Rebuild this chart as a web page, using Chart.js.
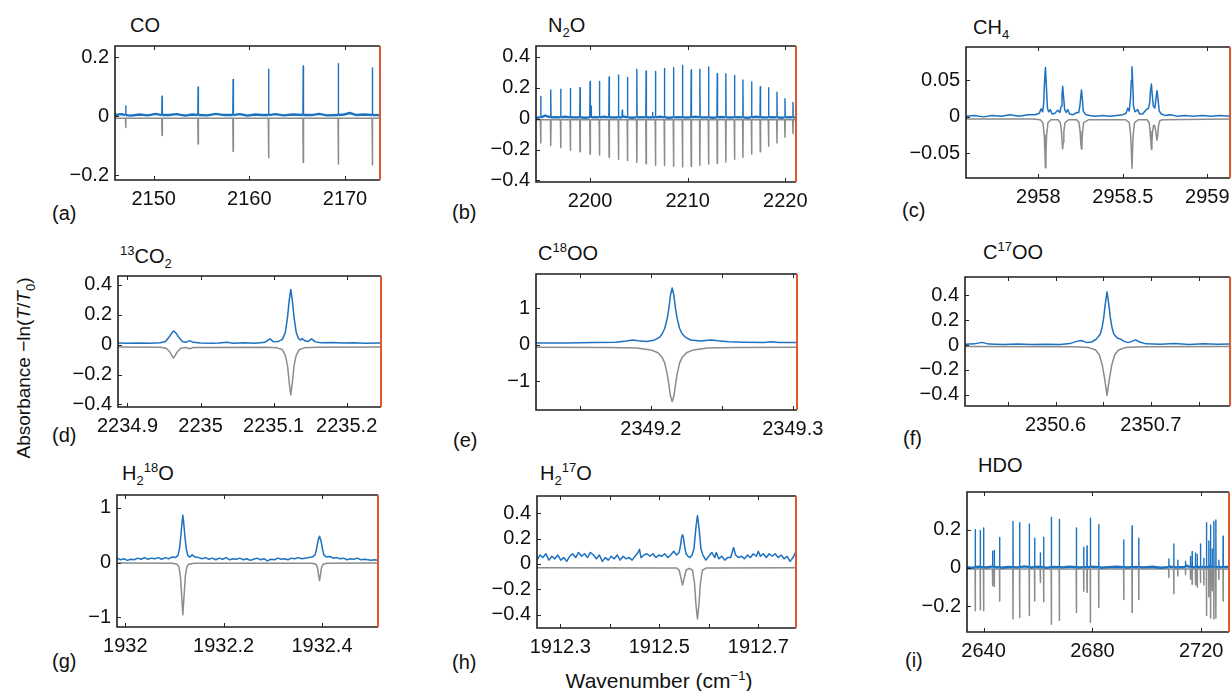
<!DOCTYPE html>
<html>
<head>
<meta charset="utf-8">
<script src="https://cdn.jsdelivr.net/npm/chart.js@4.4.1/dist/chart.umd.min.js"></script>
<style>
  body { margin:0; width:1231px; height:691px; overflow:hidden; background:#fff; position:relative;
         font-family:"Liberation Sans", Arial, sans-serif; color:#111; }
  canvas { position:absolute; }
  .t { position:absolute; font-size:20px; line-height:20px; white-space:nowrap; }
  .t sub, .t sup { font-size:13px; line-height:0; }
  .lab { position:absolute; font-size:20px; line-height:20px; white-space:nowrap; }
  .lab sub, .lab sup { font-size:13px; line-height:0; }
</style>
</head>
<body>

<div class="t" style="left:130px;top:15px">CO</div>
<div class="t" style="left:548px;top:15px">N<sub>2</sub>O</div>
<div class="t" style="left:973px;top:17px">CH<sub>4</sub></div>
<div class="t" style="left:120px;top:246px"><sup>13</sup>CO<sub>2</sub></div>
<div class="t" style="left:538px;top:243px">C<sup>18</sup>OO</div>
<div class="t" style="left:983px;top:242px">C<sup>17</sup>OO</div>
<div class="t" style="left:122px;top:463px">H<sub>2</sub><sup>18</sup>O</div>
<div class="t" style="left:540px;top:463px">H<sub>2</sub><sup>17</sup>O</div>
<div class="t" style="left:978px;top:455px">HDO</div>

<div class="lab" style="left:52px;top:203px">(a)</div>
<div class="lab" style="left:452px;top:202px">(b)</div>
<div class="lab" style="left:902px;top:200px">(c)</div>
<div class="lab" style="left:52px;top:425px">(d)</div>
<div class="lab" style="left:453px;top:430px">(e)</div>
<div class="lab" style="left:903px;top:428px">(f)</div>
<div class="lab" style="left:52px;top:651px">(g)</div>
<div class="lab" style="left:452px;top:652px">(h)</div>
<div class="lab" style="left:905px;top:650px">(i)</div>

<div class="lab" style="left:24px;top:368px;font-size:19px;transform:translate(-50%,-50%) rotate(-90deg)">Absorbance &minus;ln(<i>T</i>/<i>T</i><sub>0</sub>)</div>
<div class="lab" style="left:659px;top:681px;font-size:21px;transform:translate(-50%,-50%)">Wavenumber (cm<sup>&minus;1</sup>)</div>

<canvas id="ca"></canvas><canvas id="cb"></canvas><canvas id="cc"></canvas>
<canvas id="cd"></canvas><canvas id="ce"></canvas><canvas id="cf"></canvas>
<canvas id="cg"></canvas><canvas id="ch"></canvas><canvas id="ci"></canvas>

<script>
// ---------- (a) CO ----------
const coBaseX = [2145.95, 2146.6, 2147.6, 2148.5, 2149.4, 2150.2, 2151.6, 2152.4, 2153.3, 2154.0, 2155.6, 2156.5, 2157.4, 2159.0,
                 2159.8, 2160.6, 2161.3, 2162.7, 2163.6, 2164.5, 2166.5, 2167.3, 2168.1, 2169.9, 2170.5, 2171.2, 2172.0, 2173.66];
const coBaseY = [0.004, 0.007, 0.002, 0.006, 0.003, 0.008, 0.004, 0.007, 0.002, 0.006, 0.003, 0.008, 0.004, 0.007,
                 0.002, 0.006, 0.004, 0.007, 0.003, 0.006, 0.004, 0.008, 0.003, 0.006, 0.011, 0.004, 0.006, 0.004];
const coLineX = [2147.07, 2150.87, 2154.64, 2158.30, 2162.01, 2165.63, 2169.30, 2172.86];
const coMeas  = [0.035, 0.068, 0.099, 0.125, 0.159, 0.170, 0.178, 0.164];
const coSim   = [-0.038, -0.065, -0.094, -0.119, -0.141, -0.157, -0.162, -0.165];
const coXTicks = [2150, 2160, 2170];
const coYTicks = [-0.2, 0, 0.2];

// ---------- (b) N2O ----------
const n2oBaseX = [2194.46, 2195.4, 2196.5, 2197.4, 2198.5, 2199.5, 2200.5, 2201.4, 2202.4, 2203.4, 2204.3, 2205.3, 2206.2, 2207.2, 2208.1,
                  2209.0, 2209.9, 2210.8, 2211.7, 2212.6, 2213.5, 2214.4, 2215.2, 2216.1, 2217.0, 2217.9, 2218.7, 2219.6, 2220.4, 2221.1];
const n2oBaseY = [0.006, 0.02, 0.01, 0.012, 0.008, 0.006, 0.01, 0.012, 0.008, 0.014, 0.006, 0.01, 0.008, 0.012, 0.006,
                  0.01, 0.007, 0.012, 0.008, 0.006, 0.011, 0.007, 0.01, 0.006, 0.012, 0.008, 0.01, 0.006, 0.01, 0.006];
const n2oLineX = [2194.94, 2195.97, 2196.99, 2197.98, 2198.97, 2200.00, 2200.96, 2201.95, 2202.91, 2203.83, 2204.79, 2205.74, 2206.70,
                  2207.62, 2208.55, 2209.47, 2210.36, 2211.25, 2212.14, 2213.03, 2213.91, 2214.80, 2215.66, 2216.55, 2217.44,
                  2218.29, 2219.15, 2219.97, 2220.79];
const n2oMeas = [0.144, 0.185, 0.19, 0.196, 0.2, 0.24, 0.24, 0.27, 0.283, 0.267, 0.319, 0.308, 0.306, 0.325, 0.329, 0.344, 0.315,
                 0.32, 0.335, 0.29, 0.29, 0.28, 0.25, 0.237, 0.206, 0.2, 0.171, 0.129, 0.104];
const n2oSim  = [-0.158, -0.173, -0.188, -0.204, -0.215, -0.229, -0.235, -0.25, -0.263, -0.271, -0.283, -0.292, -0.302, -0.304,
                 -0.308, -0.313, -0.308, -0.302, -0.294, -0.288, -0.281, -0.263, -0.25, -0.229, -0.215, -0.179, -0.158, -0.121, -0.096];
const n2oWeakX = [2200.1, 2203.3, 2206.4];
const n2oWeakY = [0.08, 0.055, 0.04];
const n2oXTicks = [2200, 2210, 2220];
const n2oYTicks = [-0.4, -0.2, 0, 0.2, 0.4];

// ---------- (c) CH4 ----------
const ch4MeasX = [2957.572, 2957.622, 2957.674, 2957.727, 2957.780, 2957.832, 2957.885, 2957.938, 2957.980, 2958.006, 2958.016,
  2958.026, 2958.032, 2958.037, 2958.042, 2958.047, 2958.054, 2958.061, 2958.071, 2958.081, 2958.098, 2958.115, 2958.127,
  2958.136, 2958.140, 2958.144, 2958.149, 2958.156, 2958.164, 2958.174, 2958.185, 2958.206, 2958.228, 2958.239, 2958.246,
  2958.251, 2958.255, 2958.260, 2958.266, 2958.280, 2958.306, 2958.338, 2958.380, 2958.422, 2958.464, 2958.501, 2958.519,
  2958.529, 2958.538, 2958.545, 2958.550, 2958.554, 2958.558, 2958.563, 2958.572, 2958.588, 2958.599, 2958.617, 2958.639,
  2958.652, 2958.659, 2958.663, 2958.669, 2958.674, 2958.680, 2958.689, 2958.696, 2958.702, 2958.708, 2958.715, 2958.728,
  2958.749, 2958.780, 2958.822, 2958.865, 2958.917, 2958.970, 2959.023, 2959.075, 2959.134];
const ch4MeasY = [0.001, 0.002, 0.000, 0.002, 0.001, 0.003, 0.001, 0.003, 0.003, 0.005, 0.011,
  0.007, 0.02, 0.05, 0.068, 0.045, 0.012, 0.007, 0.010, 0.004, 0.005, 0.009, 0.006,
  0.015, 0.03, 0.042, 0.028, 0.01, 0.006, 0.010, 0.004, 0.003, 0.006, 0.006, 0.015,
  0.028, 0.037, 0.025, 0.008, 0.003, 0.002, 0.001, 0.002, 0.001, 0.002, 0.003, 0.005,
  0.012, 0.008, 0.025, 0.05, 0.069, 0.05, 0.015, 0.007, 0.010, 0.004, 0.004, 0.010,
  0.012, 0.02, 0.035, 0.045, 0.03, 0.015, 0.012, 0.025, 0.036, 0.025, 0.008, 0.004,
  0.002, 0.003, 0.001, 0.002, 0.001, 0.002, 0.001, 0.002, 0.001];
const ch4SimX = [2957.572, 2957.969, 2958.011, 2958.027, 2958.035, 2958.039, 2958.042, 2958.045, 2958.049, 2958.057, 2958.075,
  2958.117, 2958.130, 2958.137, 2958.141, 2958.144, 2958.147, 2958.151, 2958.158, 2958.180, 2958.227, 2958.241, 2958.247,
  2958.251, 2958.255, 2958.258, 2958.262, 2958.268, 2958.296, 2958.517, 2958.538, 2958.546, 2958.551, 2958.554, 2958.557,
  2958.561, 2958.569, 2958.591, 2958.643, 2958.656, 2958.661, 2958.666, 2958.669, 2958.672, 2958.676, 2958.681, 2958.688,
  2958.695, 2958.699, 2958.702, 2958.706, 2958.711, 2958.719, 2958.738, 2959.134];
const ch4SimY = [-0.003, -0.003, -0.004, -0.008, -0.025, -0.05, -0.070, -0.05, -0.025, -0.008, -0.004,
  -0.004, -0.008, -0.02, -0.035, -0.044, -0.035, -0.02, -0.008, -0.004, -0.004, -0.008, -0.02,
  -0.035, -0.044, -0.035, -0.02, -0.008, -0.004, -0.004, -0.008, -0.025, -0.05, -0.0705, -0.05,
  -0.025, -0.008, -0.004, -0.004, -0.008, -0.02, -0.035, -0.0446, -0.035, -0.02, -0.012, -0.012,
  -0.02, -0.028, -0.032, -0.026, -0.012, -0.005, -0.004, -0.003];
const ch4XTicks = [2958, 2958.5, 2959];
const ch4YTicks = [-0.05, 0, 0.05];

// ---------- (d) 13CO2 ----------
const c13MeasX = [2234.887, 2234.90, 2234.915, 2234.93, 2234.945, 2234.952, 2234.957, 2234.961, 2234.963, 2234.966, 2234.970,
  2234.975, 2234.980, 2234.985, 2234.990, 2235.000, 2235.015, 2235.025, 2235.036, 2235.045, 2235.060, 2235.075, 2235.088, 2235.095,
  2235.100, 2235.106, 2235.112, 2235.116, 2235.119, 2235.1215, 2235.1235, 2235.1255, 2235.128, 2235.131, 2235.134, 2235.137,
  2235.139, 2235.143, 2235.147, 2235.152, 2235.157, 2235.165, 2235.18, 2235.195, 2235.21, 2235.225, 2235.247];
const c13MeasY = [0.010, 0.008, 0.011, 0.009, 0.012, 0.02, 0.05, 0.08, 0.09, 0.08, 0.05,
  0.02, 0.015, 0.026, 0.015, 0.010, 0.008, 0.011, 0.016, 0.009, 0.012, 0.009, 0.015, 0.038,
  0.018, 0.02, 0.035, 0.08, 0.18, 0.30, 0.368, 0.30, 0.18, 0.08, 0.04, 0.03,
  0.04, 0.025, 0.02, 0.038, 0.018, 0.012, 0.014, 0.010, 0.012, 0.009, 0.010];
const c13SimX = [2234.887, 2234.945, 2234.953, 2234.958, 2234.963, 2234.968, 2234.973, 2234.980, 2234.985, 2234.990, 2235.09,
  2235.105, 2235.112, 2235.116, 2235.119, 2235.1215, 2235.1235, 2235.1255, 2235.128, 2235.131, 2235.135, 2235.142, 2235.16, 2235.247];
const c13SimY = [-0.017, -0.018, -0.025, -0.05, -0.09, -0.05, -0.025, -0.02, -0.028, -0.02, -0.018,
  -0.022, -0.035, -0.07, -0.14, -0.26, -0.336, -0.26, -0.14, -0.07, -0.035, -0.022, -0.018, -0.017];
const c13XTicks = [2234.9, 2235, 2235.1, 2235.2];
const c13YTicks = [-0.4, -0.2, 0, 0.2, 0.4];

// ---------- (e) C18OO ----------
const c18MeasX = [2349.119, 2349.14, 2349.16, 2349.175, 2349.183, 2349.187, 2349.191, 2349.197, 2349.202, 2349.206, 2349.208,
  2349.2098, 2349.2115, 2349.2127, 2349.2138, 2349.215, 2349.2162, 2349.2173, 2349.2185, 2349.2202, 2349.222, 2349.2245,
  2349.228, 2349.235, 2349.240, 2349.243, 2349.247, 2349.255, 2349.265, 2349.28, 2349.285, 2349.29, 2349.303];
const c18MeasY = [0.05, 0.05, 0.06, 0.07, 0.1, 0.13, 0.11, 0.09, 0.12, 0.2, 0.3,
  0.45, 0.72, 1.0, 1.35, 1.55, 1.35, 1.0, 0.72, 0.45, 0.3, 0.2,
  0.13, 0.1, 0.12, 0.13, 0.11, 0.08, 0.07, 0.06, 0.08, 0.06, 0.06];
const c18SimX = [2349.119, 2349.17, 2349.19, 2349.2, 2349.205, 2349.208, 2349.2098, 2349.2115, 2349.2127, 2349.2138, 2349.215,
  2349.2162, 2349.2173, 2349.2185, 2349.2202, 2349.222, 2349.225, 2349.23, 2349.24, 2349.26, 2349.303];
const c18SimY = [-0.07, -0.075, -0.09, -0.14, -0.22, -0.35, -0.5, -0.8, -1.1, -1.4, -1.55,
  -1.4, -1.1, -0.8, -0.5, -0.35, -0.22, -0.14, -0.09, -0.075, -0.07];
const c18XTicks = [2349.15, 2349.2, 2349.25, 2349.3];
const c18XLabels = [2349.2, 2349.3];
const c18YTicks = [-1, 0, 1];

// ---------- (f) C17OO ----------
const c17MeasX = [2350.505, 2350.515, 2350.523, 2350.53, 2350.545, 2350.56, 2350.575, 2350.59, 2350.605, 2350.615, 2350.622,
  2350.627, 2350.633, 2350.638, 2350.643, 2350.647, 2350.649, 2350.6505, 2350.652, 2350.654, 2350.656, 2350.6575, 2350.659,
  2350.661, 2350.665, 2350.668, 2350.672, 2350.676, 2350.680, 2350.684, 2350.688, 2350.695, 2350.71, 2350.725, 2350.74,
  2350.755, 2350.77, 2350.783];
const c17MeasY = [0.006, 0.01, 0.022, 0.008, 0.005, 0.008, 0.004, 0.007, 0.005, 0.012, 0.03,
  0.037, 0.02, 0.025, 0.05, 0.09, 0.15, 0.22, 0.32, 0.428, 0.32, 0.22, 0.15,
  0.09, 0.055, 0.05, 0.03, 0.02, 0.03, 0.042, 0.025, 0.01, 0.006, 0.012, 0.005,
  0.01, 0.006, 0.008];
const c17SimX = [2350.505, 2350.62, 2350.635, 2350.642, 2350.646, 2350.649, 2350.6515, 2350.654, 2350.6565, 2350.659, 2350.662,
  2350.666, 2350.673, 2350.69, 2350.783];
const c17SimY = [-0.012, -0.013, -0.02, -0.04, -0.08, -0.16, -0.27, -0.405, -0.27, -0.16, -0.08,
  -0.04, -0.02, -0.013, -0.012];
const c17XTicks = [2350.55, 2350.6, 2350.65, 2350.7, 2350.75];
const c17XLabels = [2350.6, 2350.7];
const c17YTicks = [-0.4, -0.2, 0, 0.2, 0.4];

// ---------- (g) H2 18O ----------
const h18MeasX = [1931.983, 1931.99, 1931.997, 1932.004, 1932.011, 1932.018, 1932.025, 1932.032, 1932.039, 1932.046, 1932.053,
  1932.060, 1932.067, 1932.074, 1932.081, 1932.088, 1932.095, 1932.102, 1932.107, 1932.110, 1932.1125, 1932.115, 1932.117,
  1932.119, 1932.1215, 1932.124, 1932.127, 1932.131, 1932.136, 1932.142, 1932.149, 1932.156, 1932.163, 1932.170, 1932.177,
  1932.184, 1932.191, 1932.198, 1932.205, 1932.212, 1932.219, 1932.226, 1932.233, 1932.240, 1932.247, 1932.254, 1932.261,
  1932.268, 1932.275, 1932.282, 1932.289, 1932.296, 1932.303, 1932.310, 1932.317, 1932.324, 1932.331, 1932.338, 1932.345,
  1932.352, 1932.359, 1932.366, 1932.373, 1932.380, 1932.386, 1932.389, 1932.392, 1932.395, 1932.398, 1932.401, 1932.404,
  1932.409, 1932.416, 1932.423, 1932.430, 1932.437, 1932.444, 1932.451, 1932.458, 1932.465, 1932.472, 1932.479, 1932.486,
  1932.493, 1932.500, 1932.507, 1932.514];
const h18MeasY = [0.08, 0.05, 0.07, 0.04, 0.06, 0.05, 0.08, 0.06, 0.09, 0.06, 0.08,
  0.07, 0.09, 0.06, 0.09, 0.07, 0.10, 0.09, 0.13, 0.25, 0.45, 0.7, 0.867,
  0.7, 0.45, 0.25, 0.13, 0.10, 0.14, 0.10, 0.09, 0.07, 0.09, 0.06, 0.08,
  0.05, 0.08, 0.06, 0.09, 0.05, 0.07, 0.06, 0.08, 0.05, 0.07, 0.04, 0.06,
  0.08, 0.05, 0.07, 0.03, 0.06, 0.05, 0.08, 0.06, 0.07, 0.05, 0.08, 0.07,
  0.09, 0.07, 0.08, 0.09, 0.10, 0.14, 0.25, 0.4, 0.48, 0.4, 0.25, 0.14,
  0.10, 0.11, 0.08, 0.09, 0.07, 0.08, 0.05, 0.07, 0.06, 0.08, 0.05, 0.06,
  0.05, 0.04, 0.05, 0.04];
const h18SimX = [1931.983, 1932.095, 1932.105, 1932.109, 1932.112, 1932.1145, 1932.117, 1932.1195, 1932.122, 1932.125, 1932.129,
  1932.14, 1932.38, 1932.388, 1932.391, 1932.393, 1932.395, 1932.397, 1932.399, 1932.402, 1932.41, 1932.514];
const h18SimY = [-0.01, -0.012, -0.03, -0.08, -0.25, -0.6, -0.954, -0.6, -0.25, -0.08, -0.03,
  -0.012, -0.012, -0.03, -0.1, -0.22, -0.33, -0.22, -0.1, -0.03, -0.012, -0.01];
const h18XTicks = [1932, 1932.2, 1932.4];
const h18YTicks = [-1, 0, 1];

// ---------- (h) H2 17O ----------
const h17MeasX = [1912.253, 1912.259, 1912.265, 1912.271, 1912.277, 1912.283, 1912.289, 1912.295, 1912.301, 1912.307, 1912.313,
  1912.319, 1912.325, 1912.331, 1912.337, 1912.343, 1912.349, 1912.355, 1912.361, 1912.367, 1912.373, 1912.379, 1912.385,
  1912.391, 1912.397, 1912.403, 1912.409, 1912.415, 1912.421, 1912.427, 1912.433, 1912.439, 1912.445, 1912.451, 1912.457,
  1912.460, 1912.463, 1912.469, 1912.475, 1912.481, 1912.487, 1912.493, 1912.499, 1912.505, 1912.511, 1912.517, 1912.523,
  1912.529, 1912.535, 1912.540, 1912.543, 1912.545, 1912.547, 1912.549, 1912.551, 1912.554, 1912.558, 1912.562, 1912.566,
  1912.570, 1912.573, 1912.5755, 1912.577, 1912.5785, 1912.581, 1912.584, 1912.588, 1912.594, 1912.600, 1912.606, 1912.612,
  1912.615, 1912.620, 1912.626, 1912.632, 1912.638, 1912.644, 1912.647, 1912.650, 1912.654, 1912.660, 1912.666, 1912.672,
  1912.678, 1912.684, 1912.690, 1912.696, 1912.700, 1912.704, 1912.710, 1912.716, 1912.722, 1912.728, 1912.734, 1912.740,
  1912.746, 1912.752, 1912.758, 1912.764, 1912.770, 1912.776];
const h17MeasY = [0.03, 0.07, 0.05, 0.08, 0.03, 0.06, 0.04, 0.07, 0.03, 0.05, 0.02,
  0.06, 0.08, 0.05, 0.09, 0.06, 0.08, 0.05, 0.09, 0.07, 0.04, 0.07, 0.02,
  0.05, 0.03, 0.06, 0.04, 0.07, 0.03, 0.06, 0.04, 0.05, 0.03, 0.06, 0.09,
  0.115, 0.05, 0.07, 0.08, 0.06, 0.08, 0.05, 0.07, 0.06, 0.08, 0.05, 0.07,
  0.10, 0.07, 0.09, 0.15, 0.21, 0.23, 0.2, 0.14, 0.08, 0.06, 0.05, 0.07,
  0.12, 0.25, 0.34, 0.38, 0.34, 0.25, 0.12, 0.07, 0.03, 0.06, 0.09, 0.05,
  0.09, 0.04, 0.06, 0.03, 0.05, 0.05, 0.09, 0.13, 0.07, 0.05, 0.06, 0.04,
  0.07, 0.05, 0.08, 0.06, 0.1, 0.06, 0.08, 0.05, 0.08, 0.06, 0.08, 0.05,
  0.07, 0.04, 0.06, 0.02, 0.05, 0.1];
const h17SimX = [1912.253, 1912.535, 1912.540, 1912.543, 1912.547, 1912.551, 1912.554, 1912.560, 1912.567, 1912.571, 1912.574,
  1912.577, 1912.580, 1912.583, 1912.587, 1912.595, 1912.776];
const h17SimY = [-0.03, -0.032, -0.05, -0.1, -0.166, -0.1, -0.05, -0.035, -0.05, -0.15, -0.32,
  -0.434, -0.32, -0.15, -0.05, -0.032, -0.03];
const h17XTicks = [1912.3, 1912.4, 1912.5, 1912.6, 1912.7];
const h17XLabels = [1912.3, 1912.5, 1912.7];
const h17YTicks = [-0.4, -0.2, 0, 0.2, 0.4];

// ---------- (i) HDO ----------
const hdoBaseX = [2633.89, 2636, 2638.2, 2641, 2643, 2646.5, 2649, 2652, 2655, 2657.5, 2660, 2663, 2666, 2669, 2671.5, 2675, 2679.5,
                  2683, 2686, 2689, 2692.5, 2696, 2699, 2702, 2705, 2708.5, 2711, 2714.5, 2716.5, 2718.5, 2720.5, 2723, 2726, 2730.23];
const hdoBaseY = [0.004, 0.0, 0.006, 0.002, 0.007, 0.001, 0.005, 0.003, 0.008, 0.002, 0.006, 0.0, 0.005, 0.003, 0.007, 0.002, 0.006,
                  0.001, 0.004, 0.006, 0.002, 0.005, 0.003, 0.006, 0.001, 0.007, 0.003, 0.012, 0.006, 0.014, 0.005, 0.01, 0.004, 0.006];
const hdoLineX = [2636.93, 2638.77, 2640.0, 2643.31, 2643.93, 2645.89, 2650.80, 2653.25, 2656.80, 2658.77, 2660.86, 2662.08,
  2664.91, 2667.85, 2674.11, 2676.81, 2678.03, 2679.26, 2682.33, 2691.53, 2694.60, 2697.05, 2708.09, 2709.93, 2711.40,
  2714.23, 2716.06, 2716.68, 2717.90, 2718.52, 2719.75, 2720.97, 2721.96, 2722.82, 2723.44, 2724.04, 2724.66, 2725.40,
  2726.49, 2728.08];
const hdoMeas = [0.2, 0.197, 0.21, 0.088, 0.092, 0.16, 0.244, 0.237, 0.23, 0.156, 0.078, 0.161, 0.264, 0.254, 0.21, 0.108, 0.115,
  0.261, 0.227, 0.146, 0.22, 0.156, 0.047, 0.125, 0.04, 0.034, 0.06, 0.085, 0.078, 0.07, 0.125, 0.05, 0.237, 0.142, 0.224, 0.1,
  0.244, 0.251, 0.04, 0.166];
const hdoSim = [-0.224, -0.22, -0.224, -0.093, -0.098, -0.173, -0.268, -0.26, -0.25, -0.173, -0.076, -0.178, -0.295, -0.275,
  -0.234, -0.122, -0.127, -0.285, -0.207, -0.166, -0.234, -0.166, -0.05, -0.136, -0.042, -0.034, -0.06, -0.085, -0.088, -0.1,
  -0.076, -0.09, -0.25, -0.153, -0.263, -0.12, -0.268, -0.263, -0.06, -0.173];
const hdoXTicks = [2640, 2680, 2720];
const hdoYTicks = [-0.2, 0, 0.2];

// ---------- helpers ----------
const FONT = '"Liberation Sans", Arial, sans-serif';
const BLUE = 'rgb(28,114,192)';
const GRAY = 'rgb(140,140,140)';

function pts(xs, ys) { return xs.map((x, i) => ({ x: x, y: ys[i] })); }

// narrow lines: baseline points plus a vertical spike for every listed line
function spikes(baseX, baseY, lineX, lineY, level, hw) {
  const out = pts(baseX, baseY);
  lineX.forEach((x, i) => {
    out.push({ x: x - hw, y: level }, { x: x, y: lineY[i] }, { x: x + hw, y: level });
  });
  return out.sort((p, q) => p.x - q.x);
}

function fmt(v) { return String(v).replace('-', '\u2212'); }

// thicker noisy baseline, thinner spikes (spike panels only)
function spikeWidth(thin, thick) {
  return ctx => (Math.max(Math.abs(ctx.p0.parsed.y), Math.abs(ctx.p1.parsed.y)) > 0.025 ? thin : thick);
}

const framePlugin = {
  id: 'frame',
  afterDraw(chart) {
    const { ctx, chartArea: a, scales } = chart;
    ctx.save();
    ctx.strokeStyle = '#262626';
    ctx.lineWidth = 1;
    ctx.beginPath();
    scales.x.ticks.forEach(t => {
      const px = Math.round(scales.x.getPixelForValue(t.value)) + 0.5;
      ctx.moveTo(px, a.top); ctx.lineTo(px, a.top + 4);
      ctx.moveTo(px, a.bottom); ctx.lineTo(px, a.bottom - 4);
    });
    scales.y.ticks.forEach(t => {
      const py = Math.round(scales.y.getPixelForValue(t.value)) + 0.5;
      ctx.moveTo(a.left, py); ctx.lineTo(a.left + 4, py);
    });
    ctx.stroke();
    ctx.lineWidth = 1.6;
    ctx.strokeStyle = '#1e1e1e';
    ctx.beginPath();
    ctx.moveTo(a.right, a.top); ctx.lineTo(a.left, a.top); ctx.lineTo(a.left, a.bottom); ctx.lineTo(a.right, a.bottom);
    ctx.stroke();
    ctx.strokeStyle = 'rgb(226,88,44)';
    ctx.lineWidth = 2;
    ctx.beginPath();
    ctx.moveTo(a.right, a.top); ctx.lineTo(a.right, a.bottom);
    ctx.stroke();
    ctx.restore();
  }
};

const PL = 90, PT = 14, PR = 40, PB = 40;

function makePanel(id, box, xr, yr, xt, xl, yt, meas, sim, spiky) {
  const [L, T, R, B] = box;
  const cv = document.getElementById(id);
  cv.width = Math.round(R - L + PL + PR);
  cv.height = Math.round(B - T + PT + PB);
  cv.style.left = (L - PL) + 'px';
  cv.style.top = (T - PT) + 'px';
  const blue = { data: meas, borderColor: BLUE, borderWidth: 1.5, pointRadius: 0, tension: 0, borderJoinStyle: 'round' };
  if (spiky) blue.segment = { borderWidth: spikeWidth(1.4, 2.4) };
  new Chart(cv, {
    type: 'line',
    data: {
      datasets: [
        blue,
        { data: sim, borderColor: GRAY, borderWidth: 1.5, pointRadius: 0, tension: 0, borderJoinStyle: 'round' }
      ]
    },
    options: {
      responsive: false, animation: false, devicePixelRatio: 1, events: [],
      layout: { padding: { left: 0, top: PT, right: PR, bottom: 0 } },
      plugins: { legend: { display: false }, tooltip: { enabled: false } },
      scales: {
        x: {
          type: 'linear', min: xr[0], max: xr[1],
          afterBuildTicks: s => { s.ticks = xt.map(v => ({ value: v })); },
          afterFit: s => { s.height = PB; },
          grid: { display: false, drawTicks: false }, border: { display: false },
          ticks: { font: { family: FONT, size: 20 }, color: '#111', padding: 7, maxRotation: 0, autoSkip: false,
                   callback: v => (xl.includes(v) ? fmt(v) : '') }
        },
        y: {
          type: 'linear', min: yr[0], max: yr[1],
          afterBuildTicks: s => { s.ticks = yt.map(v => ({ value: v })); },
          afterFit: s => { s.width = PL; },
          grid: { display: false, drawTicks: false }, border: { display: false },
          ticks: { font: { family: FONT, size: 20 }, color: '#111', padding: 6, autoSkip: false, callback: v => fmt(v) }
        }
      }
    },
    plugins: [framePlugin]
  });
}

makePanel('ca', [115.3, 41.7, 380, 180], [2145.95, 2173.66], [-0.216, 0.238], coXTicks, coXTicks, coYTicks,
  spikes(coBaseX, coBaseY, coLineX, coMeas, 0.004, 0.03),
  spikes([2145.95, 2173.66], [-0.007, -0.007], coLineX, coSim, -0.007, 0.03), true);

makePanel('cb', [536, 41.7, 795.7, 181.7], [2194.46, 2221.1], [-0.41, 0.47], n2oXTicks, n2oXTicks, n2oYTicks,
  spikes(n2oBaseX, n2oBaseY, n2oLineX.concat(n2oWeakX), n2oMeas.concat(n2oWeakY), 0.008, 0.03),
  spikes([2194.46, 2221.1], [-0.008, -0.008], n2oLineX, n2oSim, -0.008, 0.03), true);

makePanel('cc', [965.7, 43.3, 1230, 178.3], [2957.572, 2959.134], [-0.084, 0.096], ch4XTicks, ch4XTicks, ch4YTicks,
  pts(ch4MeasX, ch4MeasY), pts(ch4SimX, ch4SimY), false);

makePanel('cd', [118.3, 271.7, 381, 406.7], [2234.887, 2235.247], [-0.417, 0.458], c13XTicks, c13XTicks, c13YTicks,
  pts(c13MeasX, c13MeasY), pts(c13SimX, c13SimY), false);

makePanel('ce', [536, 270, 797.3, 410], [2349.119, 2349.303], [-1.78, 1.93], c18XTicks, c18XLabels, c18YTicks,
  pts(c18MeasX, c18MeasY), pts(c18SimX, c18SimY), false);

makePanel('cf', [965, 273.3, 1230, 406.7], [2350.505, 2350.783], [-0.49, 0.548], c17XTicks, c17XLabels, c17YTicks,
  pts(c17MeasX, c17MeasY), pts(c17SimX, c17SimY), false);

makePanel('cg', [116.7, 490.7, 377.7, 626.7], [1931.983, 1932.514], [-1.18, 1.236], h18XTicks, h18XTicks, h18YTicks,
  pts(h18MeasX, h18MeasY), pts(h18SimX, h18SimY), false);

makePanel('ch', [536.7, 491.7, 796, 627.7], [1912.253, 1912.776], [-0.505, 0.535], h17XTicks, h17XLabels, h17YTicks,
  pts(h17MeasX, h17MeasY), pts(h17SimX, h17SimY), false);

makePanel('ci', [966.7, 488.3, 1228.3, 632.7], [2633.89, 2730.23], [-0.336, 0.398], hdoXTicks, hdoXTicks, hdoYTicks,
  spikes(hdoBaseX, hdoBaseY, hdoLineX, hdoMeas, 0.004, 0.06),
  spikes([2633.89, 2730.23], [-0.006, -0.006], hdoLineX, hdoSim, -0.006, 0.06), true);
</script>
</body>
</html>
